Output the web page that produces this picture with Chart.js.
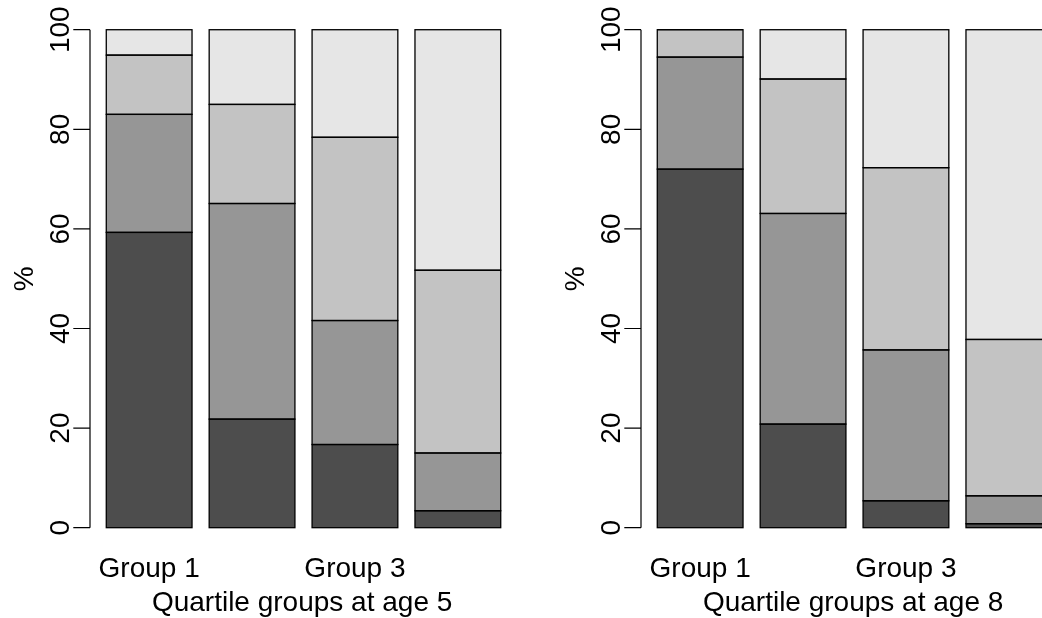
<!DOCTYPE html>
<html>
<head>
<meta charset="utf-8">
<script src="https://cdn.jsdelivr.net/npm/chart.js@4.4.1/dist/chart.umd.min.js"></script>
<style>
  html, body { margin: 0; padding: 0; background: #fff; overflow: hidden; width: 1042px; height: 618px; }
  .panel { position: absolute; top: 0; width: 552px; height: 618px; }
  #panel5 { left: 0; }
  #panel8 { left: 551px; }
</style>
</head>
<body>
<div class="panel" id="panel5"><canvas id="chart5" width="552" height="618"></canvas></div>
<div class="panel" id="panel8"><canvas id="chart8" width="552" height="618"></canvas></div>
<script>
// Categories and tick labels
const groups = ['Group 1', 'Group 2', 'Group 3', 'Group 4'];
const yTicks = [0, 20, 40, 60, 80, 100];

// Percentages per quartile group at age 5 (stacked bottom to top)
const age5Q1 = [59.3, 21.8, 16.7, 3.4];
const age5Q2 = [23.7, 43.3, 24.9, 11.6];
const age5Q3 = [11.9, 19.9, 36.8, 36.7];
const age5Q4 = [5.1, 15.0, 21.6, 48.3];

// Percentages per quartile group at age 8 (stacked bottom to top)
const age8Q1 = [72.0, 20.8, 5.4, 0.8];
const age8Q2 = [22.5, 42.3, 30.3, 5.6];
const age8Q3 = [5.5, 27.0, 36.6, 31.4];
const age8Q4 = [0.0, 9.9, 27.7, 62.2];

// Grey ramp, darkest at the bottom of each stack
const greys = ['#4D4D4D', '#969696', '#C3C3C3', '#E6E6E6'];

const FONT = '28px "Liberation Sans", Arial, Helvetica, sans-serif';

// Black outline around every stacked segment, stroked on the segment edges
const segmentOutlines = {
  id: 'segmentOutlines',
  afterDatasetsDraw(chart) {
    const ctx = chart.ctx;
    ctx.save();
    ctx.strokeStyle = '#000';
    ctx.lineWidth = 1.3;
    chart.data.datasets.forEach((ds, i) => {
      chart.getDatasetMeta(i).data.forEach(el => {
        const p = el.getProps(['x', 'y', 'base', 'width'], true);
        const top = Math.min(p.y, p.base);
        ctx.strokeRect(p.x - p.width / 2, top, p.width, Math.abs(p.base - p.y));
      });
    });
    ctx.restore();
  }
};

// Axis, tick labels and titles drawn in the classic base-graphics style
const baseAxes = {
  id: 'baseAxes',
  afterDraw(chart, args, opts) {
    const ctx = chart.ctx;
    const xs = chart.scales.x, ys = chart.scales.y;
    const area = chart.chartArea;
    const axisX = area.left - 7.7;
    const tickLen = 16.7;
    ctx.save();
    ctx.strokeStyle = '#000';
    ctx.fillStyle = '#000';
    ctx.lineWidth = 1.2;
    ctx.font = FONT;

    // y axis line and ticks
    const yTop = ys.getPixelForValue(yTicks[yTicks.length - 1]);
    const yBot = ys.getPixelForValue(yTicks[0]);
    ctx.beginPath();
    ctx.moveTo(axisX, yTop);
    ctx.lineTo(axisX, yBot);
    yTicks.forEach(v => {
      const py = ys.getPixelForValue(v);
      ctx.moveTo(axisX, py);
      ctx.lineTo(axisX - tickLen, py);
    });
    ctx.stroke();

    // rotated y tick labels
    ctx.textAlign = 'center';
    ctx.textBaseline = 'alphabetic';
    yTicks.forEach(v => {
      const py = ys.getPixelForValue(v);
      ctx.save();
      ctx.translate(axisX - 21, py);
      ctx.rotate(-Math.PI / 2);
      ctx.fillText(String(v), 0, 0);
      ctx.restore();
    });

    // y title
    ctx.save();
    ctx.translate(33, (area.top + area.bottom) / 2);
    ctx.rotate(-Math.PI / 2);
    ctx.fillText('%', 0, 0);
    ctx.restore();

    // x category labels, skipping any that would overlap
    const gap = ctx.measureText('m').width;
    let lastRight = -Infinity;
    groups.forEach((g, i) => {
      const cx = xs.getPixelForValue(i);
      const w = ctx.measureText(g).width;
      if (cx - w / 2 >= lastRight + gap) {
        ctx.fillText(g, cx, 577);
        lastRight = cx + w / 2;
      }
    });

    // x title
    ctx.fillText(opts.title, (area.left + area.right) / 2 - 1.4, 610.5);
    ctx.restore();
  }
};

function makeChart(id, series, title) {
  return new Chart(document.getElementById(id), {
    type: 'bar',
    data: {
      labels: groups,
      datasets: series.map((vals, k) => ({
        label: 'Quartile ' + (k + 1),
        data: vals,
        backgroundColor: greys[k],
        borderWidth: 0,
        categoryPercentage: 1,
        barPercentage: 1 / 1.2
      }))
    },
    options: {
      responsive: false,
      animation: false,
      events: [],
      layout: { padding: { left: 97.7, right: 42.7, top: 9.8, bottom: 70.4 } },
      plugins: {
        legend: { display: false },
        tooltip: { enabled: false },
        baseAxes: { title: title }
      },
      scales: {
        x: { stacked: true, display: false, offset: true },
        y: { stacked: true, display: false, min: -4, max: 104 }
      }
    },
    plugins: [segmentOutlines, baseAxes]
  });
}

makeChart('chart5', [age5Q1, age5Q2, age5Q3, age5Q4], 'Quartile groups at age 5');
makeChart('chart8', [age8Q1, age8Q2, age8Q3, age8Q4], 'Quartile groups at age 8');
</script>
</body>
</html>
